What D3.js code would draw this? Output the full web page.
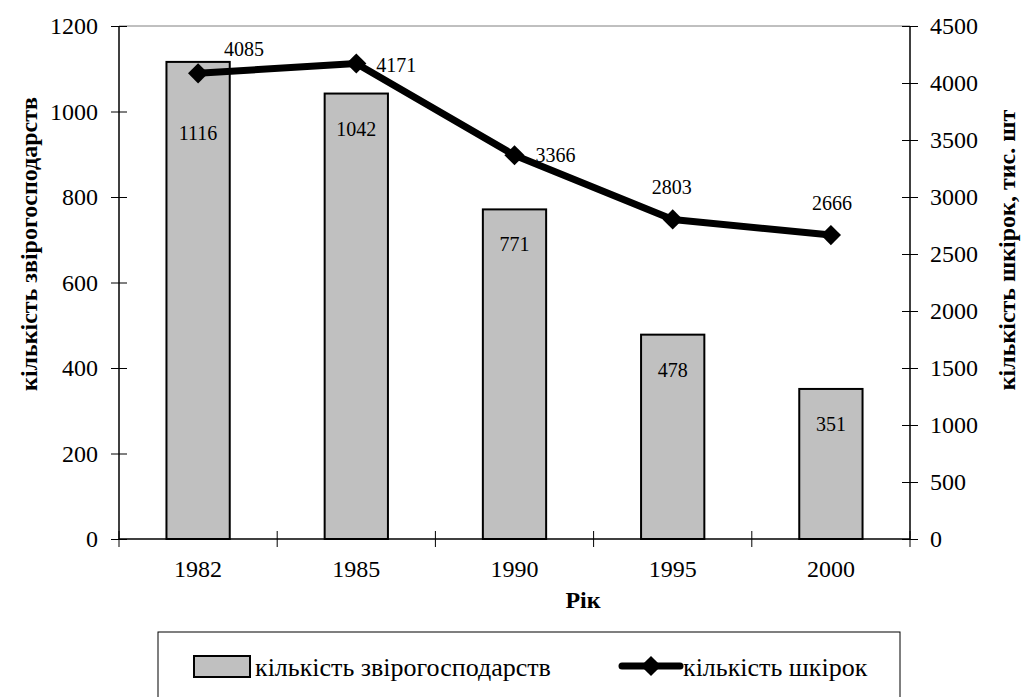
<!DOCTYPE html>
<html>
<head>
<meta charset="utf-8">
<script src="https://cdn.jsdelivr.net/npm/d3@7"></script>
<style>
  body { margin: 0; background: #fff; }
  svg text { font-family: "Liberation Serif", "Times New Roman", serif; fill: #000; }
</style>
</head>
<body>
<script>
// chart data
var years = ["1982", "1985", "1990", "1995", "2000"];
var farms = [1116, 1042, 771, 478, 351];     // кількість звірогосподарств
var skins = [4085, 4171, 3366, 2803, 2666];  // кількість шкірок, тис. шт
var leftTicks = [0, 200, 400, 600, 800, 1000, 1200];
var rightTicks = [0, 500, 1000, 1500, 2000, 2500, 3000, 3500, 4000, 4500];

// sizes
var width = 1021, height = 697;
var plot = {left: 119, right: 910, top: 26, bottom: 539};
var serif = "Liberation Serif, Times New Roman, serif";

var svg = d3.select("body").append("svg")
            .attr("width", width)
            .attr("height", height);

var x = d3.scaleBand().domain(years).range([plot.left, plot.right]).padding(0);
var yL = d3.scaleLinear().domain([0, 1200]).range([plot.bottom, plot.top]);
var yR = d3.scaleLinear().domain([0, 4500]).range([plot.bottom, plot.top]);
var barW = x.bandwidth() * 0.4;

// top border of plot area
svg.append("line")
   .attr("x1", plot.left).attr("x2", plot.right)
   .attr("y1", plot.top).attr("y2", plot.top)
   .attr("stroke", "#808080").attr("stroke-width", 1);

// bars
svg.selectAll("rect.bar")
   .data(farms)
   .enter().append("rect")
   .attr("class", "bar")
   .attr("x", function(d, i) { return x(years[i]) + (x.bandwidth() - barW) / 2; })
   .attr("y", function(d) { return yL(d); })
   .attr("width", barW)
   .attr("height", function(d) { return plot.bottom - yL(d); })
   .attr("fill", "#c0c0c0")
   .attr("stroke", "#000")
   .attr("stroke-width", 2);

// bar labels, pushed down when the line marker sits on top of the bar
svg.selectAll("text.barLabel")
   .data(farms)
   .enter().append("text")
   .attr("class", "barLabel")
   .attr("x", function(d, i) { return x(years[i]) + x.bandwidth() / 2; })
   .attr("y", function(d, i) { return Math.max(yL(d) + 42, yR(skins[i]) + 67); })
   .attr("text-anchor", "middle")
   .style("font-size", "20px")
   .text(function(d) { return d; });

// axes
var leftAxis = svg.append("g")
   .attr("transform", "translate(" + plot.left + ",0)")
   .call(d3.axisLeft(yL).tickValues(leftTicks).tickFormat(d3.format("d"))
           .tickSize(8).tickPadding(13));
leftAxis.selectAll(".tick line").attr("x1", 8);

var rightAxis = svg.append("g")
   .attr("transform", "translate(" + plot.right + ",0)")
   .call(d3.axisRight(yR).tickValues(rightTicks).tickFormat(d3.format("d"))
           .tickSize(8).tickPadding(12));
rightAxis.selectAll(".tick line").attr("x1", -8);

var bottomAxis = svg.append("g")
   .attr("transform", "translate(0," + plot.bottom + ")")
   .call(d3.axisBottom(x).tickSize(0).tickPadding(30));
bottomAxis.select(".domain").remove();
bottomAxis.append("line")
   .attr("x1", plot.left).attr("x2", plot.right)
   .attr("stroke", "#000").attr("stroke-width", 1.5);
bottomAxis.selectAll("line.sep")
   .data(years.concat(["end"]))
   .enter().append("line")
   .attr("class", "sep")
   .attr("x1", function(d, i) { return plot.left + i * x.bandwidth(); })
   .attr("x2", function(d, i) { return plot.left + i * x.bandwidth(); })
   .attr("y1", -8).attr("y2", 8)
   .attr("stroke", "#000");

[leftAxis, rightAxis].forEach(function(g) {
  g.select(".domain").attr("stroke", "#000").attr("stroke-width", 1.5)
   .attr("d", "M0," + plot.bottom + "V" + plot.top);
  g.selectAll(".tick line").attr("stroke", "#000");
});
[leftAxis, rightAxis, bottomAxis].forEach(function(g) {
  g.attr("font-family", serif).attr("font-size", 24);
  g.selectAll(".tick text").attr("fill", "#000");
});
bottomAxis.selectAll(".tick text").attr("dy", "0.35em");

// line series
var line = d3.line()
   .x(function(d, i) { return x(years[i]) + x.bandwidth() / 2; })
   .y(function(d) { return yR(d); });

var diamond = d3.symbol().type(d3.symbolDiamond2).size(260);

// line labels: offsets from the marker (label placement as in the original)
var lineLabelOffset = [[46, -24], [40, 1], [41, 0], [-1, -32], [1, -32]];
svg.selectAll("text.lineLabel")
   .data(skins)
   .enter().append("text")
   .attr("class", "lineLabel")
   .attr("x", function(d, i) { return x(years[i]) + x.bandwidth() / 2 + lineLabelOffset[i][0]; })
   .attr("y", function(d, i) { return yR(d) + lineLabelOffset[i][1]; })
   .attr("dy", "0.35em")
   .attr("text-anchor", "middle")
   .style("font-size", "20px")
   .text(function(d) { return d; });

svg.append("path")
   .datum(skins)
   .attr("d", line)
   .attr("fill", "none")
   .attr("stroke", "#000")
   .attr("stroke-width", 7)
   .attr("stroke-linejoin", "round");

svg.selectAll("path.marker")
   .data(skins)
   .enter().append("path")
   .attr("class", "marker")
   .attr("transform", function(d, i) {
     return "translate(" + (x(years[i]) + x.bandwidth() / 2) + "," + yR(d) + ")";
   })
   .attr("d", diamond)
   .attr("fill", "#000");

// axis titles
svg.append("text")
   .attr("transform", "translate(29,244) rotate(-90)")
   .attr("text-anchor", "middle")
   .attr("dy", "0.35em")
   .style("font-size", "24px")
   .style("font-weight", "bold")
   .text("кількість звірогосподарств");

svg.append("text")
   .attr("transform", "translate(1007,250) rotate(-90)")
   .attr("text-anchor", "middle")
   .attr("dy", "0.35em")
   .style("font-size", "24px")
   .style("font-weight", "bold")
   .text("кількість шкірок, тис. шт");

svg.append("text")
   .attr("x", 583).attr("y", 600)
   .attr("text-anchor", "middle")
   .attr("dy", "0.35em")
   .style("font-size", "24px")
   .style("font-weight", "bold")
   .text("Рік");

// legend
var legend = svg.append("g");
legend.append("rect")
   .attr("x", 158).attr("y", 632)
   .attr("width", 742).attr("height", 80)
   .attr("fill", "none")
   .attr("stroke", "#000")
   .attr("stroke-width", 1);

legend.append("rect")
   .attr("x", 194).attr("y", 656)
   .attr("width", 56).attr("height", 21)
   .attr("fill", "#c0c0c0")
   .attr("stroke", "#000")
   .attr("stroke-width", 2);
legend.append("text")
   .attr("x", 255).attr("y", 667)
   .attr("dy", "0.35em")
   .style("font-size", "26px")
   .text("кількість звірогосподарств");

legend.append("line")
   .attr("x1", 622).attr("x2", 680)
   .attr("y1", 666).attr("y2", 666)
   .attr("stroke", "#000").attr("stroke-width", 7)
   .attr("stroke-linecap", "round");
legend.append("path")
   .attr("transform", "translate(651,666)")
   .attr("d", diamond)
   .attr("fill", "#000");
legend.append("text")
   .attr("x", 683).attr("y", 667)
   .attr("dy", "0.35em")
   .style("font-size", "26px")
   .text("кількість шкірок");
</script>
</body>
</html>
